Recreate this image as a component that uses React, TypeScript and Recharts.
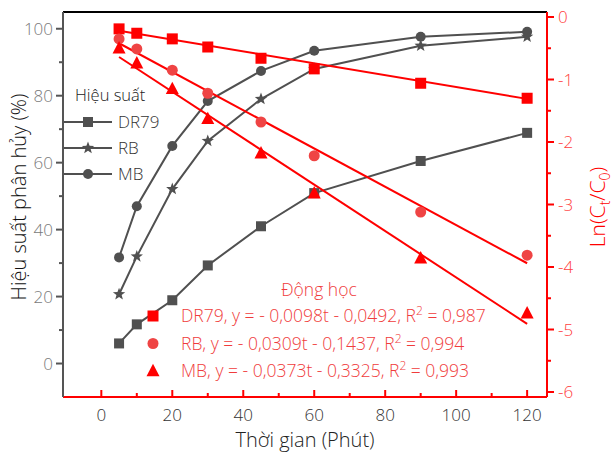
import React from 'react'
import { ComposedChart, Line, XAxis, YAxis, ReferenceLine } from 'recharts'

// sampling times (minutes)
const time = [5, 10, 20, 30, 45, 60, 90, 120]

// degradation efficiency (%), left axis
const effDR79 = [6.0, 11.7, 18.9, 29.3, 41.0, 50.9, 60.5, 68.9]
const effRB = [20.7, 32.0, 52.1, 66.5, 79.0, 88.0, 94.9, 97.6]
const effMB = [31.7, 47.0, 65.0, 78.4, 87.4, 93.4, 97.6, 99.1]

// ln(Ct/C0), right axis
const lnDR79 = [-0.19, -0.26, -0.35, -0.48, -0.66, -0.83, -1.06, -1.3]
const lnRB = [-0.35, -0.51, -0.85, -1.22, -1.68, -2.22, -3.12, -3.81]
const lnMB = [-0.5, -0.74, -1.15, -1.63, -2.18, -2.82, -3.86, -4.74]

// fitted kinetic lines (end points)
const fitTime = [5, 120]
const fitDR79 = [-0.22, -1.31]
const fitRB = [-0.42, -3.94]
const fitMB = [-0.64, -4.91]

const xTicks = [0, 10, 20, 30, 40, 50, 60, 70, 80, 90, 100, 110, 120]
const leftTicks = [0, 10, 20, 30, 40, 50, 60, 70, 80, 90, 100]
const rightTicks = [0, -0.5, -1, -1.5, -2, -2.5, -3, -3.5, -4, -4.5, -5, -5.5, -6]

const effNames = ['DR79', 'RB', 'MB']
const kineticLabels = [
    ['DR79, y = - 0,0098t - 0,0492, R', ' = 0,987'],
    ['RB, y = - 0,0309t - 0,1437, R', ' = 0,994'],
    ['MB, y = - 0,0373t - 0,3325, R', ' = 0,993'],
]

const rows = time.map((t, i) => ({
    t,
    effDR79: effDR79[i],
    effRB: effRB[i],
    effMB: effMB[i],
    lnDR79: lnDR79[i],
    lnRB: lnRB[i],
    lnMB: lnMB[i],
}))

const fitRows = fitTime.map((t, i) => ({ t, dr79: fitDR79[i], rb: fitRB[i], mb: fitMB[i] }))

const GRAY = '#505050'
const RED = '#ff0000'
const RED_SOFT = '#ef4444'
const RED_TEXT = '#f03c3c'
const FONT = '"Open Sans", sans-serif'
const W = 300 // Open Sans light reads closer to the original's thin face

// marker shapes
const square = (cx: number, cy: number, s: number, fill: string, key?: any) => (
    <rect key={key} x={cx - s / 2} y={cy - s / 2} width={s} height={s} fill={fill} />
)
const circle = (cx: number, cy: number, r: number, fill: string, key?: any) => (
    <circle key={key} cx={cx} cy={cy} r={r} fill={fill} />
)
const triangle = (cx: number, cy: number, s: number, fill: string, key?: any) => (
    <path
        key={key}
        d={`M${cx},${cy - s * 0.55} L${cx + s / 2},${cy + s * 0.4} L${cx - s / 2},${cy + s * 0.4} Z`}
        fill={fill}
    />
)
const star = (cx: number, cy: number, r: number, fill: string, key?: any) => {
    const pts: string[] = []
    for (let k = 0; k < 10; k++) {
        const rad = k % 2 === 0 ? r : r * 0.42
        const a = -Math.PI / 2 + (k * Math.PI) / 5
        pts.push(`${cx + rad * Math.cos(a)},${cy + rad * Math.sin(a)}`)
    }
    return <polygon key={key} points={pts.join(' ')} fill={fill} />
}

const dot = (draw: (cx: number, cy: number, key?: any) => React.ReactElement) => (p: any) =>
    draw(p.cx, p.cy, `d-${p.index}`)

// custom ticks: majors labelled, minors short
const XTick = (p: any) => {
    const { x, y, payload } = p
    const major = payload.value % 20 === 0
    return (
        <g>
            <line x1={x} x2={x} y1={y} y2={y - (major ? 7 : 4)} stroke={RED} strokeWidth={2} />
            {major && (
                <text x={x} y={y + 24} textAnchor="middle" fill="#333" fontSize={17} fontWeight={W} fontFamily={FONT}>
                    {payload.value}
                </text>
            )}
        </g>
    )
}

const LeftTick = (p: any) => {
    const { x, y, payload } = p
    const major = payload.value % 20 === 0
    return (
        <g>
            <line x1={x - (major ? 7 : 4)} x2={x} y1={y} y2={y} stroke="#555" strokeWidth={2} />
            {major && (
                <text x={x - 10} y={y + 6} textAnchor="end" fill="#7a7a7a" fontSize={17} fontWeight={W} fontFamily={FONT}>
                    {payload.value}
                </text>
            )}
        </g>
    )
}

const RightTick = (p: any) => {
    const { x, y, payload } = p
    const major = Number.isInteger(payload.value)
    return (
        <g>
            <line x1={x} x2={x + (major ? 7 : 4)} y1={y} y2={y} stroke={RED} strokeWidth={2} />
            {major && (
                <text x={x + 11} y={y + 6} textAnchor="start" fill="#ff4040" fontSize={17} fontWeight={W} fontFamily={FONT}>
                    {payload.value === 0 ? '0' : `-${Math.abs(payload.value)}`}
                </text>
            )}
        </g>
    )
}

const effMarkers = [
    (x: number, y: number, k?: any) => square(x, y, 10, GRAY, k),
    (x: number, y: number, k?: any) => star(x, y, 6.5, GRAY, k),
    (x: number, y: number, k?: any) => circle(x, y, 5, GRAY, k),
]
const lnMarkers = [
    (x: number, y: number, k?: any) => square(x, y, 11, RED, k),
    (x: number, y: number, k?: any) => circle(x, y, 5.5, RED_SOFT, k),
    (x: number, y: number, k?: any) => triangle(x, y, 13, RED, k),
]

export default function App() {
    return (
        <div style={{ position: 'absolute', left: 0, top: 0, width: 613, height: 456, background: '#fff', fontFamily: FONT }}>
            <ComposedChart width={613} height={456} data={rows} margin={{ top: 12, right: 0, bottom: 0, left: 0 }}>
                <XAxis
                    dataKey="t"
                    type="number"
                    domain={[-10.8, 125.6]}
                    ticks={xTicks}
                    interval={0}
                    height={59}
                    tickSize={0}
                    tickMargin={0}
                    tickLine={false}
                    axisLine={{ stroke: RED, strokeWidth: 2 }}
                    tick={<XTick />}
                    allowDataOverflow
                />
                <YAxis
                    yAxisId="left"
                    type="number"
                    domain={[-10, 105]}
                    ticks={leftTicks}
                    interval={0}
                    width={63}
                    tickSize={0}
                    tickMargin={0}
                    tickLine={false}
                    axisLine={{ stroke: '#555', strokeWidth: 2 }}
                    tick={<LeftTick />}
                    allowDataOverflow
                />
                <YAxis
                    yAxisId="right"
                    orientation="right"
                    type="number"
                    domain={[-6.08, 0.08]}
                    ticks={rightTicks}
                    interval={0}
                    width={66}
                    tickSize={0}
                    tickMargin={0}
                    tickLine={false}
                    axisLine={{ stroke: RED, strokeWidth: 2 }}
                    tick={<RightTick />}
                    allowDataOverflow
                />

                {/* frame top edge */}
                <ReferenceLine yAxisId="left" y={105} stroke="#000" strokeWidth={2} />

                {/* efficiency curves */}
                <Line yAxisId="left" dataKey="effDR79" stroke={GRAY} strokeWidth={2} dot={dot(effMarkers[0])} activeDot={false} isAnimationActive={false} />
                <Line yAxisId="left" dataKey="effRB" stroke={GRAY} strokeWidth={2} dot={dot(effMarkers[1])} activeDot={false} isAnimationActive={false} />
                <Line yAxisId="left" dataKey="effMB" stroke={GRAY} strokeWidth={2} dot={dot(effMarkers[2])} activeDot={false} isAnimationActive={false} />

                {/* linear fits */}
                <Line yAxisId="right" data={fitRows} dataKey="dr79" stroke={RED} strokeWidth={2} dot={false} activeDot={false} isAnimationActive={false} />
                <Line yAxisId="right" data={fitRows} dataKey="rb" stroke={RED} strokeWidth={2} dot={false} activeDot={false} isAnimationActive={false} />
                <Line yAxisId="right" data={fitRows} dataKey="mb" stroke={RED} strokeWidth={2} dot={false} activeDot={false} isAnimationActive={false} />

                {/* kinetic points */}
                <Line yAxisId="right" dataKey="lnDR79" stroke="none" dot={dot(lnMarkers[0])} activeDot={false} isAnimationActive={false} />
                <Line yAxisId="right" dataKey="lnRB" stroke="none" dot={dot(lnMarkers[1])} activeDot={false} isAnimationActive={false} />
                <Line yAxisId="right" dataKey="lnMB" stroke="none" dot={dot(lnMarkers[2])} activeDot={false} isAnimationActive={false} />
            </ComposedChart>

            {/* titles and legends */}
            <svg width={613} height={456} style={{ position: 'absolute', left: 0, top: 0, pointerEvents: 'none' }} fontFamily={FONT} fontWeight={W}>
                <text transform="translate(26,197) rotate(-90)" textAnchor="middle" fontSize={20} fill="#111">
                    Hiệu suất phân hủy (%)
                </text>
                <text x={305} y={447} textAnchor="middle" fontSize={20} fill="#222">
                    Thời gian (Phút)
                </text>
                <text transform="translate(605,207) rotate(-90)" textAnchor="middle" fontSize={21} fill={RED}>
                    Ln(C<tspan dy={5} fontSize={14}>t</tspan>
                    <tspan dy={-5}>/C</tspan>
                    <tspan dy={5} fontSize={14}>0</tspan>
                    <tspan dy={-5}>)</tspan>
                </text>

                <text x={75} y={101} fontSize={16.5} fill="#222">Hiệu suất</text>
                {effNames.map((name, i) => {
                    const y = 122 + i * 26
                    return (
                        <g key={name}>
                            <line x1={64} x2={112} y1={y} y2={y} stroke={GRAY} strokeWidth={2} />
                            {effMarkers[i](88, y)}
                            <text x={118} y={y + 6} fontSize={17} fill="#333">{name}</text>
                        </g>
                    )
                })}

                <text x={319} y={296} textAnchor="middle" fontSize={17.5} fill={RED_TEXT}>Động học</text>
                {kineticLabels.map((lab, i) => {
                    const y = 316 + i * 27.5
                    return (
                        <g key={lab[0]}>
                            {lnMarkers[i](153, y)}
                            <text x={181} y={y + 6} fontSize={17.5} fill={RED_TEXT}>
                                {lab[0]}
                                <tspan dy={-7} fontSize={12}>2</tspan>
                                <tspan dy={7}>{lab[1]}</tspan>
                            </text>
                        </g>
                    )
                })}
            </svg>
        </div>
    )
}
